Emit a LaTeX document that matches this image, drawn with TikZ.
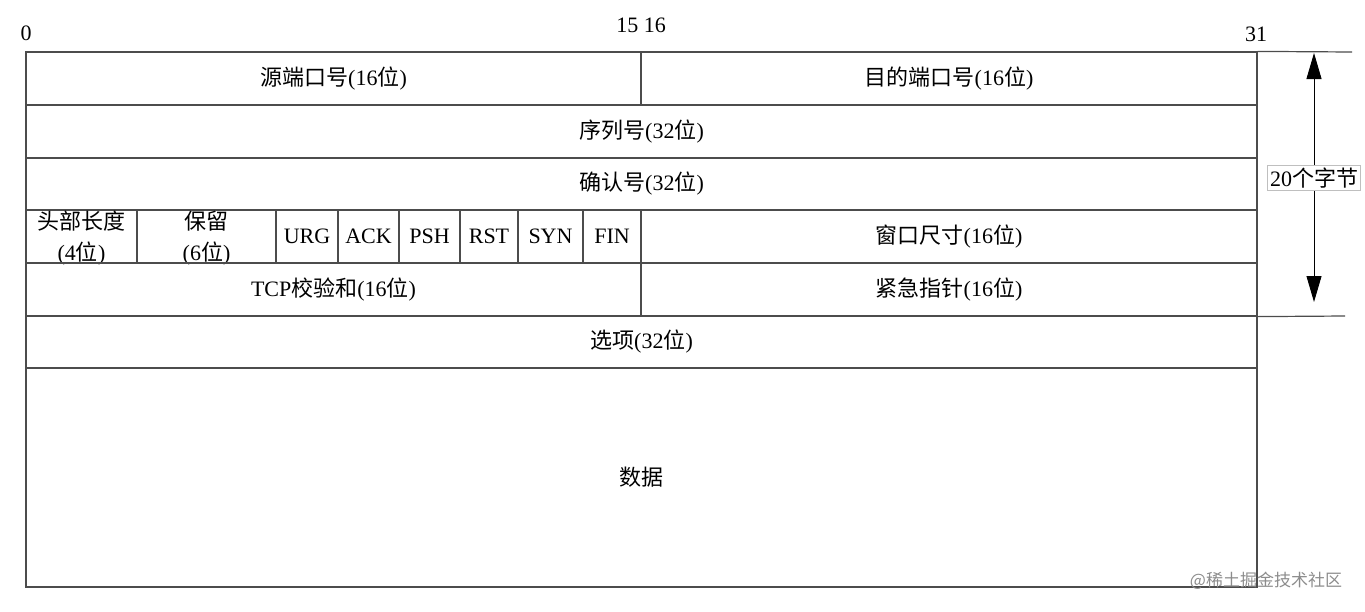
\documentclass[tikz,border=0pt]{standalone}
\usepackage{fontspec}
\setmainfont{Liberation Serif}
\newfontfamily\cjk{Noto Sans CJK SC}
\newcommand\zh[1]{{\cjk #1}}
\usetikzlibrary{arrows.meta,fit}
\begin{document}
\begin{tikzpicture}[x=1pt,y=-1pt,
  cell/.style={draw=black!70, line width=1.2pt, inner sep=0pt},
  txt/.style={font=\fontsize{22}{26}\selectfont, inner sep=0pt, align=center},
  ext/.style={draw=black!70, line width=1.2pt},
  dimarrow/.style={draw=black, line width=0.9pt, {Triangle[length=26pt,width=15pt]}-{Triangle[length=26pt,width=15pt]}},
  dimlabel/.style={font=\fontsize{22}{26}\selectfont, fill=white, draw=black!25, line width=0.8pt, inner sep=2.5pt},
  marktxt/.style={font=\fontsize{22}{26}\selectfont, inner sep=0pt},
  wmark/.style={font=\cjk\fontsize{17}{17}\selectfont, text=black!45, inner sep=0pt}]
\useasboundingbox (0,0) rectangle (1365,611);
\newcommand\cellbox[6]{%
  \node[cell, fit={(#2,#3) (#4,#5)}] (#1) {};
  \node[txt] (#1t) at (#1.center) {#6};}
% row 1
\cellbox{src}{26}{52}{641}{105}{\zh{源端口号}(16\zh{位})}
\cellbox{dst}{641}{52}{1257}{105}{\zh{目的端口号}(16\zh{位})}
% row 2-3
\cellbox{seq}{26}{105}{1257}{158}{\zh{序列号}(32\zh{位})}
\cellbox{ackn}{26}{158}{1257}{210}{\zh{确认号}(32\zh{位})}
% row 4
\node[cell, fit={(26,210) (137,263)}] (hlen) {};
\node[txt, font=\fontsize{22}{31}\selectfont] (hlent) at (81.5,238) {\zh{头部长度}\\(4\zh{位})};
\node[cell, fit={(137,210) (276,263)}] (rsv) {};
\node[txt, font=\fontsize{22}{31}\selectfont] (rsvt) at (206.5,238) {\zh{保留}\\(6\zh{位})};
\cellbox{urg}{276}{210}{338}{263}{URG}
\cellbox{ackf}{338}{210}{399}{263}{ACK}
\cellbox{psh}{399}{210}{460}{263}{PSH}
\cellbox{rst}{460}{210}{518}{263}{RST}
\cellbox{syn}{518}{210}{583}{263}{SYN}
\cellbox{fin}{583}{210}{641}{263}{FIN}
\cellbox{win}{641}{210}{1257}{263}{\zh{窗口尺寸}(16\zh{位})}
% row 5
\cellbox{csum}{26}{263}{641}{316}{TCP\zh{校验和}(16\zh{位})}
\cellbox{urgp}{641}{263}{1257}{316}{\zh{紧急指针}(16\zh{位})}
% row 6-7
\cellbox{opt}{26}{316}{1257}{368}{\zh{选项}(32\zh{位})}
\cellbox{data}{26}{368}{1257}{587}{\zh{数据}}
% bit marks
\node[marktxt] (b0) at (26,33) {0};
\node[marktxt] (b15) at (641,25) {15 16};
\node[marktxt] (b31) at (1256,34) {31};
% extension lines and dimension
\coordinate (etop) at (1352,52);
\coordinate (ebot) at (1345,316);
\draw[ext] (dst.north east) -- (etop);
\draw[ext] (urgp.south east) -- (ebot);
\coordinate (atop) at (1314,53);
\coordinate (abot) at (1314,302);
\draw[dimarrow] (atop) -- (abot);
\node[dimlabel] (dimt) at (1314,178) {20\zh{个字节}};
% watermark
\node[wmark] (wm) at (1266,581) {@稀土掘金技术社区};
\end{tikzpicture}
\end{document}
